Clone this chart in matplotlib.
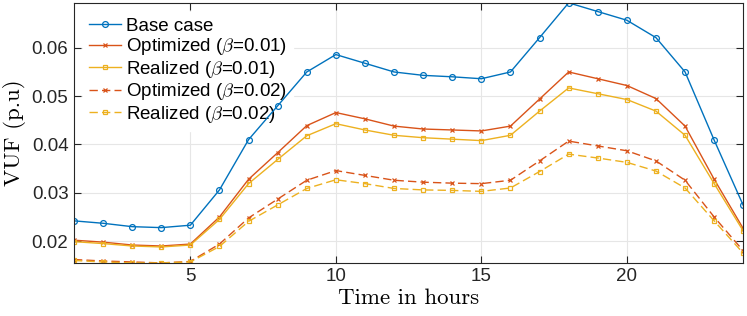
import matplotlib
matplotlib.use("Agg")
import matplotlib.pyplot as plt
import numpy as np

plt.rcParams['font.family'] = ['Liberation Sans', 'DejaVu Sans']
plt.rcParams['mathtext.fontset'] = 'cm'

hours = np.arange(1, 25)

base_case = [0.0242, 0.0237, 0.0230, 0.0228, 0.0233, 0.0306, 0.0410, 0.0480,
             0.0550, 0.0586, 0.0568, 0.0550, 0.0543, 0.0540, 0.0536, 0.0550,
             0.0621, 0.0693, 0.0675, 0.0657, 0.0621, 0.0550, 0.0409, 0.0274]
opt_b001 = [0.0202, 0.0198, 0.0192, 0.0190, 0.0194, 0.0250, 0.0328, 0.0383,
            0.0439, 0.0466, 0.0453, 0.0438, 0.0432, 0.0430, 0.0428, 0.0438,
            0.0494, 0.0550, 0.0536, 0.0522, 0.0495, 0.0438, 0.0328, 0.0226]
real_b001 = [0.0199, 0.0195, 0.0190, 0.0188, 0.0192, 0.0245, 0.0319, 0.0369,
             0.0418, 0.0443, 0.0430, 0.0419, 0.0414, 0.0411, 0.0408, 0.0419,
             0.0469, 0.0517, 0.0505, 0.0493, 0.0469, 0.0419, 0.0319, 0.0221]
opt_b002 = [0.0162, 0.0159, 0.0157, 0.0155, 0.0158, 0.0194, 0.0248, 0.0287,
            0.0326, 0.0346, 0.0336, 0.0326, 0.0322, 0.0320, 0.0319, 0.0326,
            0.0366, 0.0407, 0.0397, 0.0387, 0.0366, 0.0326, 0.0250, 0.0180]
real_b002 = [0.0160, 0.0157, 0.0155, 0.0155, 0.0157, 0.0189, 0.0241, 0.0275,
             0.0309, 0.0327, 0.0319, 0.0309, 0.0306, 0.0305, 0.0303, 0.0310,
             0.0344, 0.0380, 0.0372, 0.0363, 0.0345, 0.0310, 0.0242, 0.0175]

labels = ['Base case', r'Optimized ($\beta$=0.01)', r'Realized ($\beta$=0.01)',
          r'Optimized ($\beta$=0.02)', r'Realized ($\beta$=0.02)']

blue = '#0072BD'
red = '#D95319'
yellow = '#EDB120'

fig = plt.figure(figsize=(7.47, 3.16), dpi=100)
ax = fig.add_axes([0.099, 0.168, 0.896, 0.823])

ax.plot(hours, base_case, '-o', color=blue, lw=1.0, ms=4.2, mfc='none', mew=0.9, label=labels[0], zorder=3)
ax.plot(hours, opt_b001, '-x', color=red, lw=1.0, ms=3.5, mew=0.9, label=labels[1], zorder=3)
ax.plot(hours, real_b001, '-s', color=yellow, lw=1.0, ms=3.3, mfc='none', mew=0.9, label=labels[2], zorder=3)
ax.plot(hours, opt_b002, '--x', color=red, lw=1.0, ms=3.5, mew=0.9, dashes=(6, 3), label=labels[3], zorder=3)
ax.plot(hours, real_b002, '--s', color=yellow, lw=1.0, ms=3.3, mfc='none', mew=0.9, dashes=(6, 3), label=labels[4], zorder=3)

ax.set_xlim(1, 24)
ax.set_ylim(min(real_b002), max(base_case))
ax.set_xticks([5, 10, 15, 20])
ax.set_yticks([0.02, 0.03, 0.04, 0.05, 0.06])
ax.set_yticklabels(['0.02', '0.03', '0.04', '0.05', '0.06'])
ax.grid(True, color='#e6e6e6', lw=0.8)
ax.set_axisbelow(True)
ax.tick_params(direction='in', top=True, right=True, labelsize=13.5, colors='#262626', length=5, pad=4)
for s in ax.spines.values():
    s.set_color('#262626')
    s.set_linewidth(0.8)
    s.set_zorder(4)

ax.set_xlabel('Time in hours', fontsize=16.5, family='cmr10', labelpad=2)
ax.set_ylabel('VUF (p.u)', fontsize=16.5, family='cmr10', labelpad=4)

leg = ax.legend(loc='upper left', fontsize=13.5, frameon=True, fancybox=False,
                edgecolor='white', framealpha=1, handlelength=1.7, handletextpad=0.3,
                labelspacing=0.08, borderpad=0.3, borderaxespad=0.5)
leg.set_zorder(2)

fig.savefig('out.png', dpi=100)
